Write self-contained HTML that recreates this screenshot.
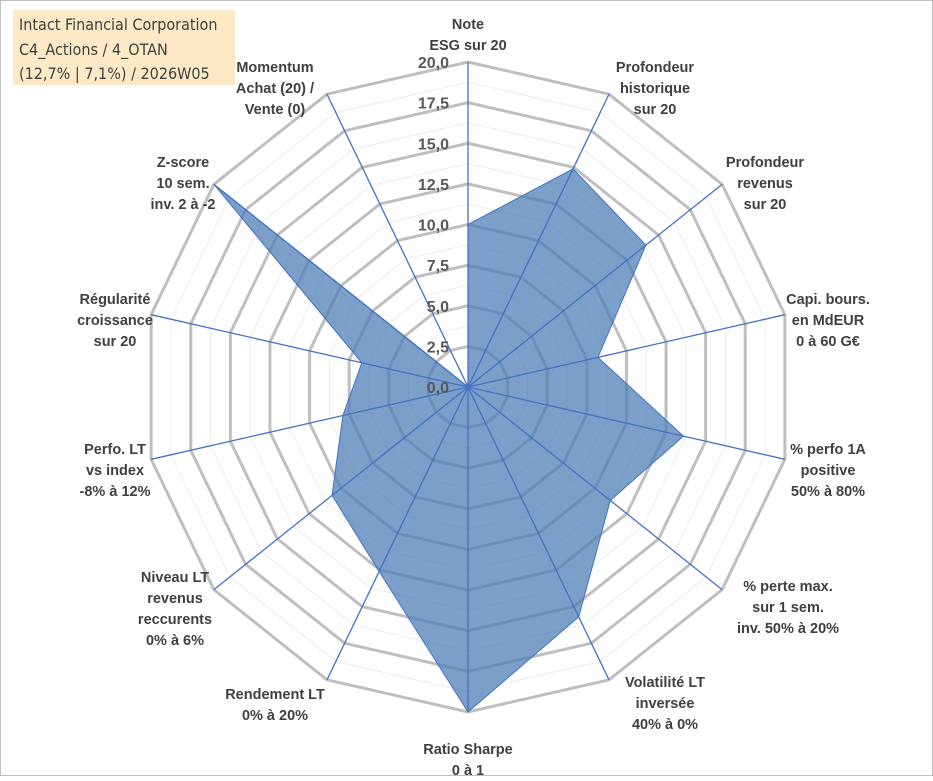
<!DOCTYPE html>
<html><head><meta charset="utf-8"><style>
body{margin:0;background:#fff;}
svg text{font-family:"Liberation Sans",sans-serif;}
</style></head><body>
<svg id="chart" width="933" height="776" xmlns="http://www.w3.org/2000/svg">
<rect x="0.5" y="0.5" width="932" height="775" fill="#fff" stroke="#bfbfbf"/>
<g id="grid"></g>
<g id="poly"></g>
<g id="axes"></g>
<g id="ticks"></g>
<g id="labels"></g>
<rect x="13" y="10" width="222" height="75" fill="#fde9c6"/>
<text x="19" y="30" font-size="16" fill="#404040" style="font-family:'DejaVu Sans Condensed','Liberation Sans',sans-serif">Intact Financial Corporation</text>
<text x="19" y="55" font-size="16" fill="#404040" style="font-family:'DejaVu Sans Condensed','Liberation Sans',sans-serif">C4_Actions / 4_OTAN</text>
<text x="19" y="79" font-size="16" fill="#404040" style="font-family:'DejaVu Sans Condensed','Liberation Sans',sans-serif">(12,7% | 7,1%) / 2026W05</text>
</svg>
<script>
const categories=[["Note","ESG sur 20"],["Profondeur","historique","sur 20"],["Profondeur","revenus","sur 20"],["Capi. bours.","en MdEUR","0 à 60 G€"],["% perfo 1A","positive","50% à 80%"],["% perte max.","sur 1 sem.","inv. 50% à 20%"],["Volatilité LT","inversée","40% à 0%"],["Ratio Sharpe","0 à 1"],["Rendement LT","0% à 20%"],["Niveau LT","revenus","reccurents","0% à 6%"],["Perfo. LT","vs index","-8% à 12%"],["Régularité","croissance","sur 20"],["Z-score","10 sem.","inv. 2 à -2"],["Momentum","Achat (20) /","Vente (0)"]];
const values=[10,14.9,14,8.2,13.6,11.2,15.7,20,12.6,10.7,7.9,6.7,20,0];
const tickLabels=["0,0","2,5","5,0","7,5","10,0","12,5","15,0","17,5","20,0"];
const labelPos=[[468,15],[655,58],[765,153],[828,290],[828,440],[788,577],[665,673],[468,740],[275,685],[175,568],[115,440],[115,290],[183,153],[275,58]];
const NS="http://www.w3.org/2000/svg";
const cx=468,cy=387,R=325,maxV=20,n=categories.length;
function pt(i,v){const a=2*Math.PI*i/n;const r=v/maxV*R;return [cx+r*Math.sin(a),cy-r*Math.cos(a)];}
function mk(t,at,p){const e=document.createElementNS(NS,t);for(const k in at)e.setAttribute(k,at[k]);p.appendChild(e);return e;}
const grid=document.getElementById('grid');
for(let k=1;k<=16;k++){const v=k*1.25;const major=k%2==0;
 const pts=[];for(let i=0;i<n;i++)pts.push(pt(i,v).join(','));
 const e=mk('polygon',{points:pts.join(' '),fill:'none',stroke:major?'#bfbfbf':'#ececec','stroke-width':major?3:1},grid);
 
 }
const poly=document.getElementById('poly');
const pp=values.map((v,i)=>pt(i,v).join(',')).join(' ');
const pe=mk('polygon',{points:pp,fill:'#4f7fb5','fill-opacity':0.75,stroke:'#4472c4','stroke-width':1},poly);


const axes=document.getElementById('axes');
for(let i=0;i<n;i++){const p=pt(i,maxV);
 const e=mk('line',{x1:cx,y1:cy,x2:p[0],y2:p[1],stroke:'#4472c4','stroke-width':1.3},axes);
 
 }
const ticks=document.getElementById('ticks');
tickLabels.forEach((t,k)=>{const y=cy-k*2.5/maxV*R;
 const e=mk('text',{x:449,y:y+6,'text-anchor':'end','font-size':16,'font-weight':'bold',fill:'#595959'},ticks);
 e.textContent=t;
 
 });
const labels=document.getElementById('labels');
categories.forEach((lines,i)=>{const [x,y]=labelPos[i];
 const e=mk('text',{x:x,y:y+14,'text-anchor':'middle','font-size':14.5,'font-weight':'bold',fill:'#404040'},labels);
 
 
 lines.forEach((l,j)=>{const s=mk('tspan',{x:x,dy:j?21:0},e);s.textContent=l;});});
</script>
</body></html>
